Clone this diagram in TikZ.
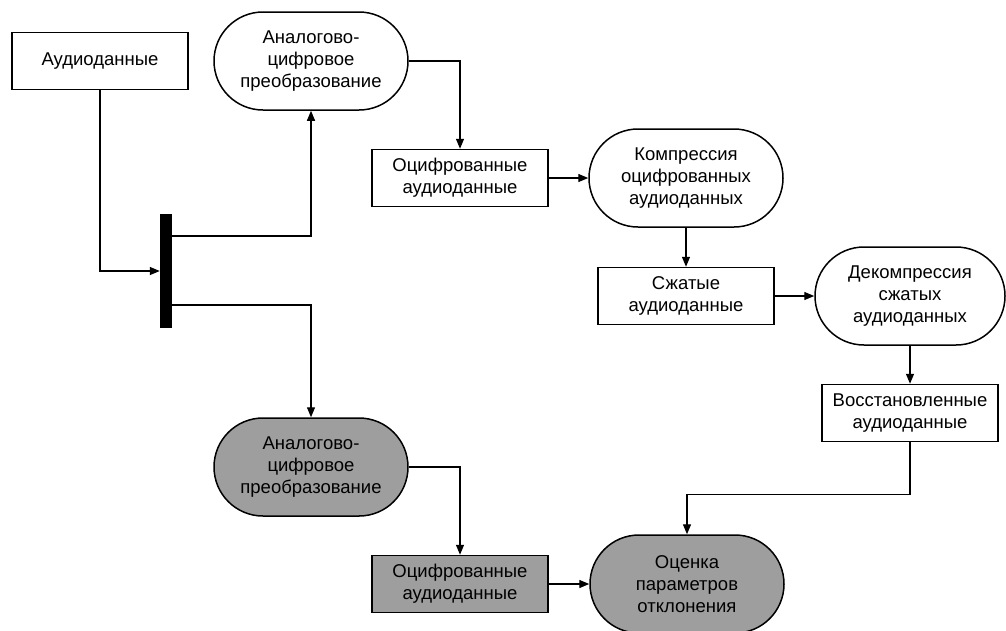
\documentclass[tikz,border=0pt]{standalone}
\usepackage{fontspec}
\setmainfont{Liberation Sans}
\usetikzlibrary{positioning,shapes.misc,arrows.meta}
\definecolor{measgray}{RGB}{158,158,158}

\tikzset{
  datbox/.style={draw,line width=1.5pt,minimum width=176pt,minimum height=57pt,align=center,inner sep=2pt},
  procbox/.style={draw,line width=1.5pt,rounded rectangle,minimum width=198pt,minimum height=98pt,align=center,inner sep=2pt},
  conn/.style={line width=1.3pt,-{Triangle[length=10pt,width=8pt]}},
  wire/.style={line width=1.3pt}
}

\begin{document}
\begin{tikzpicture}[x=1pt,y=-1pt,font=\fontsize{18.5}{22}\selectfont]
  \useasboundingbox (0,0) rectangle (1006,630);
  % upper chain: coded and decoded audio
  \node[datbox] (audio) at (100,61) {Аудиоданные};
  \node[procbox] (adc) at (311,61) {Аналогово-\\цифровое\\преобразование};
  \node[datbox] (dig) at (460,178) {Оцифрованные\\аудиоданные};
  \node[procbox] (comp) at (686,178) {Компрессия\\оцифрованных\\аудиоданных};
  \node[datbox] (packed) at (686,296) {Сжатые\\аудиоданные};
  \node[procbox,minimum width=194pt] (decomp) at (910,296) {Декомпрессия\\сжатых\\аудиоданных};
  \node[datbox] (rest) at (910,413) {Восстановленные\\аудиоданные};
  % lower chain: reference path, shaded
  \node[procbox,fill=measgray] (adc2) at (311,467) {Аналогово-\\цифровое\\преобразование};
  \node[datbox,fill=measgray] (dig2) at (460,584) {Оцифрованные\\аудиоданные};
  \node[procbox,fill=measgray] (est) at (687,584) {Оценка\\параметров\\отклонения};
  % splitter bar
  \node[fill=black,minimum width=12pt,minimum height=114pt,inner sep=0pt] (split) at (166,271) {};
  \coordinate (tap1) at (172,236);
  \coordinate (tap2) at (172,305);

  \draw[conn] (audio.south) |- (split.west);
  \draw[conn] (tap1) -| (adc.south);
  \draw[conn] (tap2) -| (adc2.north);
  \draw[conn] (adc.east) -| (dig.north);
  \draw[conn] (dig.east) -- (comp.west);
  \draw[conn] (comp.south) -- (packed.north);
  \draw[conn] (packed.east) -- (decomp.west);
  \draw[conn] (decomp.south) -- (rest.north);
  \draw[conn] (rest.south) -- ++(0,52) -| (est.north);
  \draw[conn] (adc2.east) -| (dig2.north);
  \draw[conn] (dig2.east) -- (est.west);
\end{tikzpicture}
\end{document}
